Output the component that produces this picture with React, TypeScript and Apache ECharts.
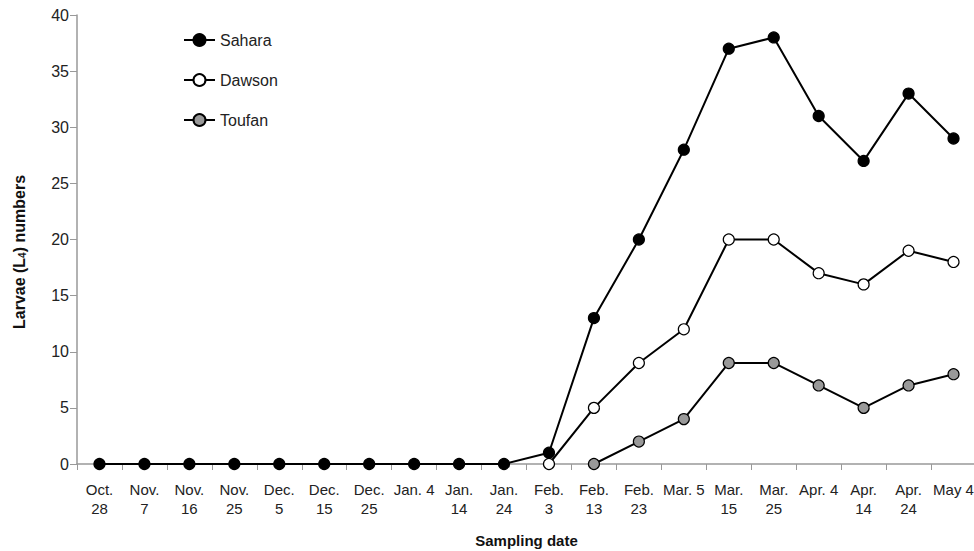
import React, { useEffect, useRef } from "react";
import * as echarts from "echarts";

const categories = [
  "Oct.\n28", "Nov.\n7", "Nov.\n16", "Nov.\n25", "Dec.\n5", "Dec.\n15", "Dec.\n25",
  "Jan. 4", "Jan.\n14", "Jan.\n24", "Feb.\n3", "Feb.\n13", "Feb.\n23", "Mar. 5",
  "Mar.\n15", "Mar.\n25", "Apr. 4", "Apr.\n14", "Apr.\n24", "May 4",
];

const sahara = [0, 0, 0, 0, 0, 0, 0, 0, 0, 0, 1, 13, 20, 28, 37, 38, 31, 27, 33, 29];
const dawson = [null, null, null, null, null, null, null, null, null, null, 0, 5, 9, 12, 20, 20, 17, 16, 19, 18];
const toufan = [null, null, null, null, null, null, null, null, null, null, null, 0, 2, 4, 9, 9, 7, 5, 7, 8];

const yTicks = { min: 0, max: 40, interval: 5 };

const FONT = "'Liberation Sans', Arial, sans-serif";

export default function App() {
  const ref = useRef<HTMLDivElement>(null);
  useEffect(() => {
    if (!ref.current) return;
    const chart = echarts.init(ref.current, null, { renderer: "svg" });
    const mkSeries = (name: string, data: (number | null)[], fill: string) => ({
      name,
      type: "line",
      data,
      symbol: "circle",
      symbolSize: 11,
      lineStyle: { color: "#000", width: 2 },
      itemStyle: { color: fill, borderColor: "#000", borderWidth: 1.2 },
      emphasis: { disabled: true },
      connectNulls: false,
    });
    chart.setOption({
      animation: false,
      textStyle: { fontFamily: FONT },
      grid: { left: 77, top: 15, width: 899, height: 449, containLabel: false, outerBoundsMode: "none" },
      legend: {
        orient: "vertical",
        left: 178,
        top: 27,
        padding: 5,
        itemWidth: 31,
        itemHeight: 15,
        itemGap: 24,
        textStyle: { fontSize: 16, color: "#222", fontFamily: FONT },
        data: ["Sahara", "Dawson", "Toufan"],
      },
      xAxis: {
        type: "category",
        data: categories,
        boundaryGap: true,
        name: "Sampling date",
        nameLocation: "middle",
        nameGap: 69,
        nameTextStyle: { fontSize: 15, fontWeight: "bold", color: "#111", fontFamily: FONT },
        axisLine: { lineStyle: { color: "#999", width: 1.5 } },
        axisTick: { show: true, alignWithLabel: false, length: 6, lineStyle: { color: "#999" } },
        axisLabel: { interval: 0, fontSize: 15, color: "#222", margin: 16, lineHeight: 19, fontFamily: FONT },
        splitLine: { show: false },
      },
      yAxis: {
        type: "value",
        min: yTicks.min,
        max: yTicks.max,
        interval: yTicks.interval,
        axisLine: { show: true, lineStyle: { color: "#999", width: 1.5 } },
        axisTick: { show: true, length: 7, lineStyle: { color: "#999" } },
        axisLabel: { fontSize: 16, color: "#222", margin: 8, fontFamily: FONT },
        splitLine: { show: false },
      },
      graphic: [
        {
          type: "text",
          x: 19,
          y: 252,
          rotation: Math.PI / 2,
          style: {
            text: "{t|Larvae (L}{s|4}{t|) numbers}",
            textAlign: "center",
            textVerticalAlign: "middle",
            rich: {
              t: { fontSize: 16, fontWeight: "bold", fill: "#111", fontFamily: FONT },
              s: { fontSize: 10, fontWeight: "bold", fill: "#111", fontFamily: FONT, padding: [7, 0, 0, 0] },
            },
          },
        },
      ],
      series: [
        mkSeries("Sahara", sahara, "#000"),
        mkSeries("Dawson", dawson, "#fff"),
        mkSeries("Toufan", toufan, "#999"),
      ],
    });
    return () => chart.dispose();
  }, []);
  return <div ref={ref} style={{ width: 974, height: 551, position: "absolute", left: 0, top: 0 }} />;
}
